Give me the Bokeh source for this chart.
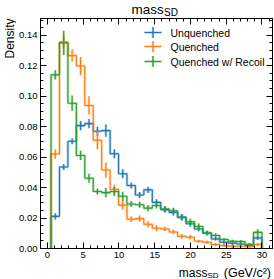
import math
from bokeh.plotting import figure
from bokeh.layouts import column, row
from bokeh.models import (Label, BoxAnnotation, LinearAxis, PrintfTickFormatter,
                          FixedTicker, Range1d, Title)
from bokeh.embed import file_html
from bokeh.resources import INLINE

# ---- data -------------------------------------------------------------
edges = [0.50, 1.68, 2.86, 4.04, 5.22, 6.40, 7.58, 8.76, 9.94, 11.12, 12.30,
         13.48, 14.66, 15.84, 17.02, 18.20, 19.38, 20.56, 21.74, 22.92, 24.10,
         25.28, 26.46, 27.64, 28.82, 30.00]

unquenched = [0.0211, 0.0535, 0.0704, 0.0807, 0.0820, 0.0770, 0.0774, 0.0622,
              0.0491, 0.0414, 0.0351, 0.0385, 0.0303, 0.0255, 0.0237, 0.0206,
              0.0162, 0.0128, 0.0102, 0.0063, 0.0041, 0.0035, 0.0030, 0.0022,
              0.0070]
unquenched_err = [0.002, 0.002, 0.002, 0.003, 0.003, 0.003, 0.004, 0.003, 0.003,
                  0.002, 0.002, 0.002, 0.002, 0.002, 0.002, 0.002, 0.002, 0.0015,
                  0.0015, 0.001, 0.001, 0.001, 0.001, 0.001, 0.0015]

quenched = [0.0620, 0.1355, 0.1266, 0.1198, 0.0939, 0.0711, 0.0515, 0.0389,
            0.0285, 0.0192, 0.0196, 0.0159, 0.0133, 0.0128, 0.0108, 0.0080,
            0.0074, 0.0048, 0.0041, 0.0026, 0.0020, 0.0015, 0.0015, 0.0013,
            0.0026]
quenched_err = [0.003, 0.004, 0.004, 0.006, 0.006, 0.006, 0.005, 0.003, 0.003,
                0.002, 0.002, 0.002, 0.002, 0.0015, 0.0015, 0.0015, 0.0015, 0.001,
                0.001, 0.001, 0.001, 0.001, 0.001, 0.001, 0.001]

recoil = [0.1140, 0.1350, 0.0954, 0.0611, 0.0461, 0.0374, 0.0367, 0.0374,
          0.0343, 0.0292, 0.0287, 0.0265, 0.0282, 0.0259, 0.0248, 0.0204,
          0.0176, 0.0144, 0.0102, 0.0085, 0.0059, 0.0048, 0.0046, 0.0026,
          0.0106]
recoil_err = [0.003, 0.008, 0.005, 0.003, 0.003, 0.002, 0.003, 0.003, 0.003,
              0.002, 0.002, 0.002, 0.002, 0.002, 0.002, 0.002, 0.002, 0.002,
              0.0015, 0.0015, 0.001, 0.001, 0.001, 0.001, 0.002]

labels = ["Unquenched", "Quenched", "Quenched w/ Recoil"]
colors = ["#1f77b4", "#ff7f0e", "#2ca02c"]
x_ticks = [0, 5, 10, 15, 20, 25, 30]
y_ticks = [0.00, 0.02, 0.04, 0.06, 0.08, 0.10, 0.12, 0.14]

series = [(unquenched, unquenched_err), (quenched, quenched_err), (recoil, recoil_err)]

FONT = "Liberation Sans"

# ---- layout sizes -----------------------------------------------------
LEFT_W = 16
MAIN_W = 258
TOTAL_W = LEFT_W + MAIN_W
TOP_H = 18
MAIN_H = 246
BOT_H = 15


def spacer(w, h):
    f = figure(width=w, height=h, output_backend="svg", toolbar_location=None,
               x_axis_type=None, y_axis_type=None,
               x_range=Range1d(0, 1), y_range=Range1d(0, 1), min_border=0)
    f.outline_line_color = None
    f.background_fill_color = "white"
    f.border_fill_color = "white"
    return f


# ---- main plot --------------------------------------------------------
p = figure(width=MAIN_W, height=MAIN_H, output_backend="svg",
           toolbar_location=None,
           x_range=Range1d(-0.975, 31.475), y_range=Range1d(0, 0.151),
           min_border_left=22, min_border_right=2, min_border_top=0,
           min_border_bottom=16)
p.xgrid.visible = False
p.ygrid.visible = False
p.outline_line_color = "black"
p.background_fill_color = "white"
p.border_fill_color = "white"

xticker = FixedTicker(ticks=x_ticks, minor_ticks=list(range(-1, 32)))
yticker = FixedTicker(ticks=y_ticks,
                      minor_ticks=[round(i * 0.005, 3) for i in range(0, 31)])


def style_axis(ax, show_labels):
    ax.major_tick_in = 6
    ax.major_tick_out = 0
    ax.minor_tick_in = 3
    ax.minor_tick_out = 0
    ax.axis_line_color = "black"
    ax.major_tick_line_color = "black"
    ax.minor_tick_line_color = "black"
    ax.major_label_text_font = FONT
    if show_labels:
        ax.major_label_text_color = "black"
        ax.major_label_text_font_size = "9.5px"
        ax.major_label_standoff = 3
    else:
        ax.major_label_text_color = None
        ax.major_label_text_font_size = "0px"
        ax.major_label_standoff = 0


p.xaxis[0].ticker = xticker
p.yaxis[0].ticker = yticker
p.yaxis[0].formatter = PrintfTickFormatter(format="%.2f")
style_axis(p.xaxis[0], True)
style_axis(p.yaxis[0], True)

top_ax = LinearAxis(ticker=xticker)
style_axis(top_ax, False)
p.add_layout(top_ax, "above")
right_ax = LinearAxis(ticker=yticker)
style_axis(right_ax, False)
p.add_layout(right_ax, "right")

# ---- histograms -------------------------------------------------------
centers = [(edges[i] + edges[i + 1]) / 2 for i in range(len(edges) - 1)]
for layer in ("light", "dark"):
    for (vals, errs), c in zip(series, colors):
        xs = [edges[0]] + edges[:-1] + [edges[-1], edges[-1]]
        ys = [0] + list(vals) + [vals[-1], 0]
        lo = [v - e for v, e in zip(vals, errs)]
        hi = [v + e for v, e in zip(vals, errs)]
        if layer == "light":
            p.step(x=xs, y=ys, mode="after", line_color=c, line_width=2.6,
                   line_alpha=0.35)
            p.segment(x0=centers, x1=centers, y0=lo, y1=hi, line_color=c,
                      line_width=2.6, line_alpha=0.35)
        else:
            p.step(x=xs, y=ys, mode="after", line_color=c, line_width=1.1)
            p.segment(x0=centers, x1=centers, y0=lo, y1=hi, line_color=c,
                      line_width=1.1)

# ---- legend (manual, screen units from frame bottom-left) -------------
row_y = [216, 202, 187]
hx0, hx1 = 104, 121
hxm = (hx0 + hx1) / 2
for lab, c, yy in zip(labels, colors, row_y):
    for w, a in ((2.6, 0.35), (1.2, 1.0)):
        p.add_layout(BoxAnnotation(left=hx0, right=hx1, bottom=yy - w / 2,
                                   top=yy + w / 2, left_units="screen",
                                   right_units="screen", top_units="screen",
                                   bottom_units="screen", fill_color=c,
                                   fill_alpha=a, line_alpha=0))
        p.add_layout(BoxAnnotation(left=hxm - w / 2, right=hxm + w / 2,
                                   bottom=yy - 5.5, top=yy + 5.5,
                                   left_units="screen", right_units="screen",
                                   top_units="screen", bottom_units="screen",
                                   fill_color=c, fill_alpha=a, line_alpha=0))
    p.add_layout(Label(x=130, y=yy, x_units="screen", y_units="screen",
                       text=lab, text_font=FONT, text_font_size="10.5px",
                       text_color="black", text_baseline="middle"))

# ---- title strip ------------------------------------------------------
t = spacer(TOTAL_W, TOP_H)
t.add_layout(Label(x=131, y=9.2, x_units="screen", y_units="screen",
                   text="mass", text_font=FONT, text_font_size="13.5px",
                   text_color="black", text_baseline="middle"))
t.add_layout(Label(x=163.5, y=6.3, x_units="screen", y_units="screen",
                   text="SD", text_font=FONT, text_font_size="10px",
                   text_color="black", text_baseline="middle"))

# ---- y label strip (vertical title) -----------------------------------
l = spacer(LEFT_W, MAIN_H)
l.add_layout(Title(text="Density", align="right", text_font=FONT,
                   text_font_size="12px", text_font_style="normal",
                   text_color="black", standoff=0, offset=0), "left")

# ---- x label strip ----------------------------------------------------
b = spacer(TOTAL_W, BOT_H)
b.add_layout(Label(x=270.5, y=7, x_units="screen", y_units="screen",
                   text="(GeV/c\u00b2)", text_font=FONT, text_font_size="12.5px",
                   text_color="black", text_align="right",
                   text_baseline="alphabetic"))
b.add_layout(Label(x=207, y=4, x_units="screen", y_units="screen",
                   text="SD", text_font=FONT, text_font_size="8px",
                   text_color="black", text_align="left",
                   text_baseline="alphabetic"))
b.add_layout(Label(x=207, y=7, x_units="screen", y_units="screen",
                   text="mass", text_font=FONT, text_font_size="12px",
                   text_color="black", text_align="right",
                   text_baseline="alphabetic"))

layout = column(t, row(l, p, spacing=0), b, spacing=0)

open("out.html", "w").write(file_html(layout, INLINE))
